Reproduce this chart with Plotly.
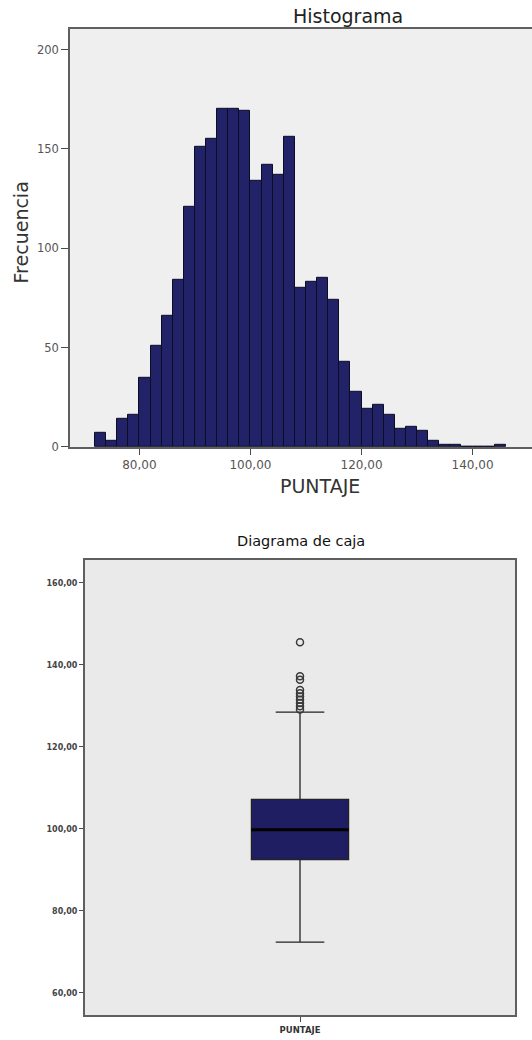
import plotly.graph_objects as go

# ---------------- data ----------------
bin_starts = [72, 74, 76, 78, 80, 82, 84, 86, 88, 90, 92, 94, 96, 98, 100, 102, 104, 106, 108,
              110, 112, 114, 116, 118, 120, 122, 124, 126, 128, 130, 132, 134, 136, 138, 140, 142, 144]
bin_width = 2
counts = [7, 3, 14, 16, 35, 51, 66, 84, 121, 151, 155, 170, 170, 169, 134, 142, 137, 156, 80,
          83, 85, 74, 43, 28, 19, 21, 16, 9, 10, 8, 3, 1, 1, 0, 0, 0, 1]

hist_xticks = [80, 100, 120, 140]
hist_xticklabels = ["80,00", "100,00", "120,00", "140,00"]
hist_yticks = [0, 50, 100, 150, 200]
hist_yticklabels = ["0", "50", "100", "150", "200"]

box_category = "PUNTAJE"
box_q1 = 92.5
box_median = 99.8
box_q3 = 107.2
box_lower = 72.4
box_upper = 128.5
box_outliers = [145.5, 137.2, 136.4, 133.9, 133.1, 132.3, 131.5, 130.7, 129.9, 129.1]
box_yticks = [60, 80, 100, 120, 140, 160]
box_yticklabels = ["60,00", "80,00", "100,00", "120,00", "140,00", "160,00"]

# ---------------- layout constants ----------------
W, H = 532, 1040
def px_x(p):
    return p / W
def px_y(p):
    return 1 - p / H

bar_fill = "#222268"
frame = "#5f5f5f"
tick_col = "#4a4a4a"

fig = go.Figure()

centers = [s + bin_width / 2 for s in bin_starts]
fig.add_trace(go.Bar(
    x=centers, y=counts, width=bin_width,
    marker=dict(color=bar_fill, line=dict(color="#0c0c25", width=1)),
    xaxis="x", yaxis="y", showlegend=False, hoverinfo="x+y"))

box_w = 0.226
fig.add_trace(go.Box(
    x=[0], q1=[box_q1], median=[box_median], q3=[box_q3],
    lowerfence=[box_lower], upperfence=[box_upper],
    width=box_w, whiskerwidth=0.5,
    fillcolor="#1f1e63", line=dict(color="#222222", width=1.3),
    xaxis="x2", yaxis="y2", showlegend=False, boxpoints=False))

fig.add_trace(go.Scatter(
    x=[0] * len(box_outliers), y=box_outliers, mode="markers",
    marker=dict(symbol="circle-open", size=7, color="#3a3a3a", line=dict(width=1.5)),
    xaxis="x2", yaxis="y2", showlegend=False))

# median line (thick, drawn in data units of the box axis)
fig.add_shape(type="line", xref="x2", yref="y2",
              x0=-box_w / 2, x1=box_w / 2, y0=box_median, y1=box_median,
              line=dict(color="black", width=3), layer="above")

# box panel background
fig.add_shape(type="rect", xref="x2 domain", yref="y2 domain", x0=0, x1=1, y0=0, y1=1,
              fillcolor="#eaeaea", line=dict(width=0), layer="below")

hist_font = "DejaVu Sans"
box_font = "DejaVu Sans"

fig.update_layout(
    width=W, height=H, autosize=False,
    margin=dict(l=0, r=0, t=0, b=0),
    paper_bgcolor="white", plot_bgcolor="#efefef",
    bargap=0,
    xaxis=dict(domain=[px_x(70), 1.0], range=[67.5, 150.7],
               tickvals=hist_xticks, ticktext=hist_xticklabels,
               showline=True, linecolor=frame, linewidth=1.5, mirror=True,
               ticks="outside", ticklen=6, tickcolor=tick_col, tickwidth=1.3,
               showgrid=False, zeroline=False,
               tickfont=dict(family=hist_font, size=12, color="#555555")),
    yaxis=dict(domain=[px_y(450), px_y(29)], range=[0, 210.5],
               tickvals=hist_yticks, ticktext=hist_yticklabels,
               showline=True, linecolor=frame, linewidth=1.5, mirror=False,
               ticks="outside", ticklen=7, tickcolor=tick_col, tickwidth=1.3,
               showgrid=False, zeroline=False,
               tickfont=dict(family=hist_font, size=11.5, color="#555555")),
    xaxis2=dict(domain=[px_x(85), px_x(515)], range=[-0.5, 0.5],
                tickvals=[0], ticktext=["<b>" + box_category + "</b>"], anchor="y2",
                showline=True, linecolor=frame, linewidth=2, mirror=True,
                ticks="outside", ticklen=5, tickcolor=tick_col, tickwidth=1.3,
                showgrid=False, zeroline=False,
                tickfont=dict(family=box_font, size=8.5, color="#333333")),
    yaxis2=dict(domain=[px_y(1022.3), px_y(563.3)], range=[54.5, 165.7],
                tickvals=box_yticks, ticktext=["<b>" + t + "</b>" for t in box_yticklabels],
                anchor="x2",
                showline=True, linecolor=frame, linewidth=2, mirror=True,
                ticks="outside", ticklen=4, tickcolor=tick_col, tickwidth=1.3,
                showgrid=False, zeroline=False,
                tickfont=dict(family=box_font, size=8, color="#444444")),
    annotations=[
        dict(text="Histograma", x=px_x(348), y=px_y(16), xref="paper", yref="paper",
             showarrow=False, font=dict(family=hist_font, size=19, color="#222222"),
             xanchor="center", yanchor="middle"),
        dict(text="Frecuencia", x=px_x(21), y=px_y(234), xref="paper", yref="paper",
             showarrow=False, textangle=-90,
             font=dict(family=hist_font, size=19, color="#333333"),
             xanchor="center", yanchor="middle"),
        dict(text="PUNTAJE", x=px_x(320), y=px_y(489), xref="paper", yref="paper",
             showarrow=False, font=dict(family=hist_font, size=19, color="#333333"),
             xanchor="center", yanchor="middle"),
        dict(text="Diagrama de caja", x=px_x(301), y=px_y(545), xref="paper", yref="paper",
             showarrow=False, font=dict(family=box_font, size=14.5, color="#111111"),
             xanchor="center", yanchor="middle"),
    ],
)

post = (
    "document.documentElement.style.margin='0px';"
    "document.body.style.margin='0px';"
    "document.documentElement.style.overflow='hidden';"
    "document.body.style.overflow='hidden';"
    "var gd=document.getElementById('{plot_id}');"
    "gd.parentElement.style.height='1040px';"
    "gd.parentElement.style.overflow='hidden';"
)
fig.write_html("out.html", config={"displayModeBar": False}, post_script=post)
